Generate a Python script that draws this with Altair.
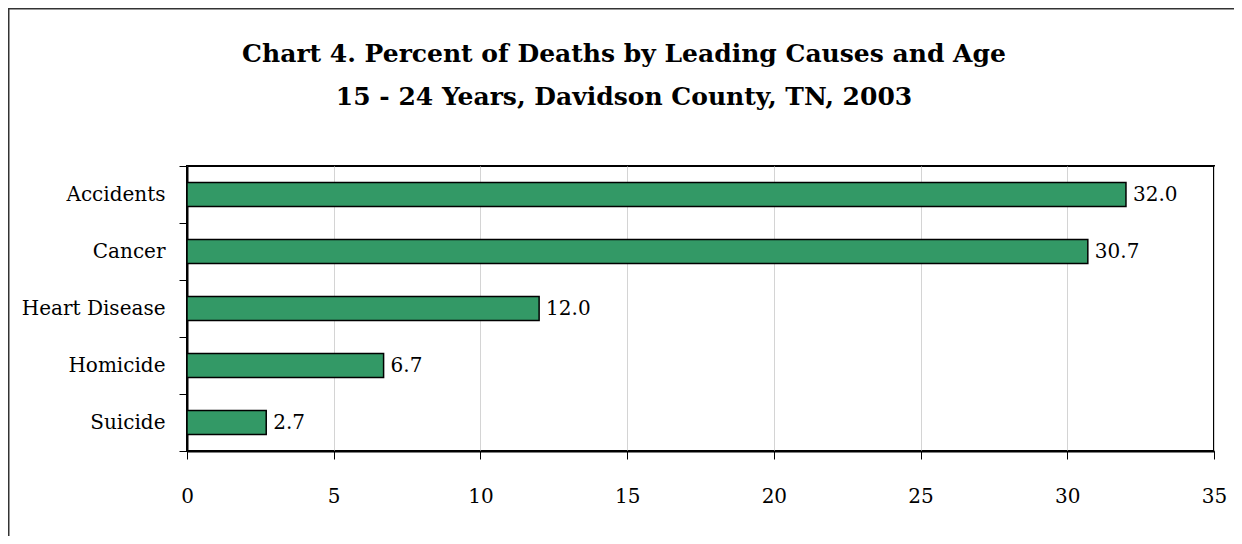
import altair as alt
import pandas as pd

causes = ["Accidents", "Cancer", "Heart Disease", "Homicide", "Suicide"]
percents = [32.0, 30.7, 12.0, 6.7, 2.7]
x_ticks = [0, 5, 10, 15, 20, 25, 30, 35]
title_line1 = "Chart 4. Percent of Deaths by Leading Causes and Age"
title_line2 = "15 - 24 Years, Davidson County, TN, 2003"

df = pd.DataFrame({"cause": causes, "pct": percents})
df["label"] = df["pct"].map(lambda v: f"{v:.1f}")

FONT = "DejaVu Serif"
W, H = 1027, 285
PL, PT, PR, PB = 179, 158, 20, 85

y_enc = alt.Y("cause:N", sort=causes, title=None,
              scale=alt.Scale(paddingInner=0, paddingOuter=0),
              axis=alt.Axis(tickBand="extent", tickSize=8, tickColor="#000000",
                            tickWidth=1, domainColor="#000000", domainWidth=2,
                            labelFont=FONT, labelFontSize=20, labelColor="#000000",
                            labelPadding=14, grid=False))
x_enc = alt.X("pct:Q", title=None,
              scale=alt.Scale(domain=[0, 35], nice=False),
              axis=alt.Axis(values=x_ticks, tickSize=8, tickColor="#000000",
                            domainColor="#000000", domainWidth=2,
                            grid=True, gridColor="#d4d4d4", gridWidth=1,
                            labelFont=FONT, labelFontSize=20, labelColor="#000000",
                            labelPadding=27, labelFlush=False))

one = pd.DataFrame({"a": [0]})
frame_top = alt.Chart(one).mark_rule(stroke="#333333", strokeWidth=2, clip=False).encode(
    x=alt.value(-PL + 1), x2=alt.value(W + PR), y=alt.value(-PT + 0.5))
frame_left = alt.Chart(one).mark_rule(stroke="#333333", strokeWidth=2, clip=False).encode(
    x=alt.value(-PL + 0.5), y=alt.value(-PT), y2=alt.value(H + PB))

t1 = alt.Chart(one).mark_text(
    text=title_line1, font=FONT, fontSize=25, fontWeight="bold", color="#000000",
    align="center", baseline="alphabetic"
).encode(x=alt.value(437), y=alt.value(-104))
t2 = alt.Chart(one).mark_text(
    text=title_line2, font=FONT, fontSize=25, fontWeight="bold", color="#000000",
    align="center", baseline="alphabetic"
).encode(x=alt.value(437), y=alt.value(-61))

bars = alt.Chart(df).mark_bar(
    color="#339966", stroke="#000000", strokeWidth=1.5, height={"band": 0.42}
).encode(x=x_enc, y=y_enc)

labels = alt.Chart(df).mark_text(
    align="left", baseline="middle", dx=7, font=FONT, fontSize=20, color="#000000"
).encode(x="pct:Q", y=alt.Y("cause:N", sort=causes), text="label:N")

chart = alt.layer(frame_top, frame_left, t1, t2, bars, labels).properties(
    width=W, height=H, background="white",
    autosize=alt.AutoSizeParams(type="none"),
    padding={"left": PL, "top": PT, "right": PR, "bottom": PB},
).configure_view(stroke="#000000", strokeWidth=2)

chart.save("out.html", embed_options={"renderer": "svg", "actions": False})
